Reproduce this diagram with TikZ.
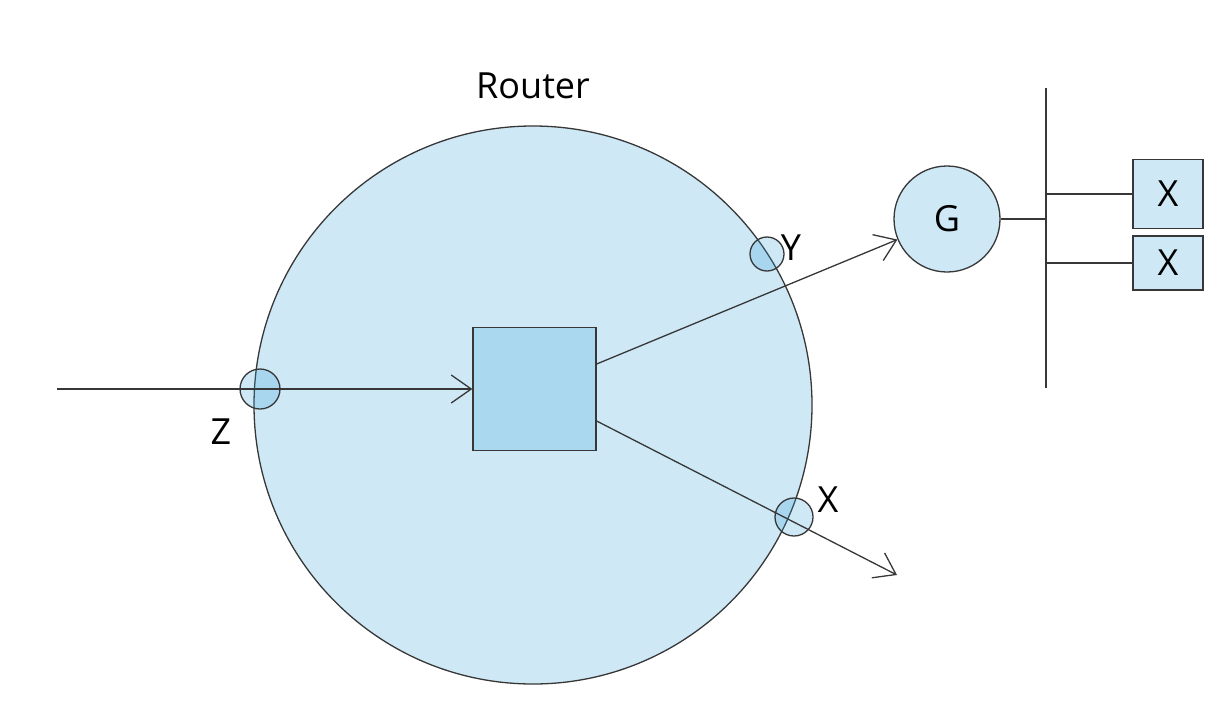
\documentclass[tikz,border=0pt]{standalone}
\usepackage{fontspec}
\setmainfont{Open Sans}
\usetikzlibrary{arrows.meta,calc}
\definecolor{routerfill}{RGB}{206,232,246}
\definecolor{boxfill}{RGB}{169,216,239}
\definecolor{portfill}{RGB}{55,161,218}
\definecolor{linegray}{RGB}{55,55,55}
\tikzset{
  wire/.style={draw=linegray,line width=1.3pt},
  barb/.style={wire,-{Straight Barb[length=20pt,width=28pt,line width=1.3pt]}},
  port/.style={circle,draw=linegray,line width=1.3pt,fill=portfill,fill opacity=0.245,text opacity=1,inner sep=0pt},
  lbl/.style={font=\fontsize{36}{40}\selectfont,inner sep=0pt}
}
\begin{document}
\begin{tikzpicture}[x=1pt,y=-1pt]
				\useasboundingbox (0,0) rectangle (1231,704);
				% router
				\node[circle,draw=linegray,line width=1.3pt,fill=routerfill,minimum size=558pt,inner sep=0pt] (router) at (533,405) {};
				\node[lbl] (routerlbl) at (533,86) {Router};
				\node[draw=linegray,line width=1.3pt,fill=boxfill,minimum size=123pt,inner sep=0pt] (core) at (534.5,389) {};
				% ports
				\node[port,minimum size=40pt] (pz) at (260,389) {};
				\node[port,minimum size=34pt] (py) at (767,254) {};
				\node[port,minimum size=38pt] (px) at (794,517) {};
				\node[lbl] (lz) at (221,432) {Z};
				\node[lbl] (ly) at (791,248) {Y};
				\node[lbl] (lx) at (828,500) {X};
				% gateway and hosts
				\node[circle,draw=linegray,line width=1.3pt,fill=routerfill,minimum size=106pt,inner sep=0pt,lbl] (gw) at (947,219) {G};
				\node[draw=linegray,line width=1.3pt,fill=routerfill,minimum width=70pt,minimum height=69pt,lbl] (h1) at (1168,194) {X};
				\node[draw=linegray,line width=1.3pt,fill=routerfill,minimum width=70pt,minimum height=54pt,lbl] (h2) at (1168,263) {X};
				\coordinate (in) at (57,389);
				\coordinate (out) at (897,575);
				\coordinate (bustop) at (1046,88);
				\coordinate (busbot) at (1046,388);
				% connectors
				\draw[barb] (in) -- (core.west);
				\draw[barb] ([yshift=25pt]core.east) -- (gw);
				\draw[barb] ([yshift=-32pt]core.east) -- (out);
				\draw[wire] (bustop) -- (busbot);
				\draw[wire] (gw.east) -- (gw.east -| bustop);
				\draw[wire] (h1.west -| bustop) -- (h1.west);
				\draw[wire] (h2.west -| bustop) -- (h2.west);
\end{tikzpicture}
\end{document}
